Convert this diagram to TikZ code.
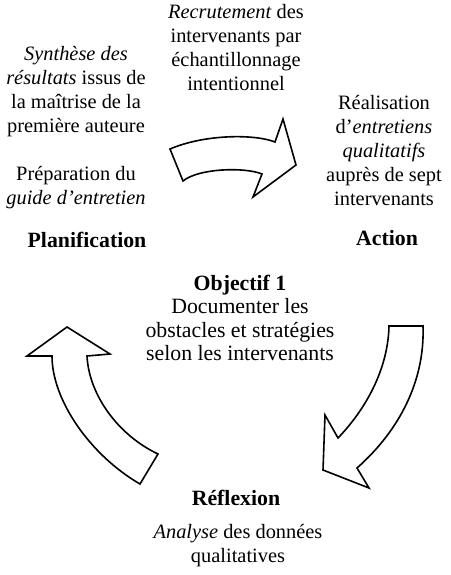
\documentclass[tikz,border=0pt]{standalone}
\usepackage{fontspec}
\setmainfont{Liberation Serif}
\tikzset{
  txt/.style    = {align=center, inner sep=0pt,
                   font=\fontsize{20.4}{24}\selectfont},
  objtxt/.style = {align=center, inner sep=0pt,
                   font=\fontsize{21.8}{23.3}\selectfont},
  titre/.style  = {align=center, inner sep=0pt,
                   font=\fontsize{21.8}{24}\selectfont\bfseries},
  fleche/.style = {draw=black, line width=1.6pt, fill=white,
                   line join=miter},
}

\begin{document}
\begin{tikzpicture}[x=1pt, y=-1pt]
  \useasboundingbox (0,0) rectangle (450,575);
  % textes
  \node[txt] (recrut) at (236,48)
    {\textit{Recrutement} des\\intervenants par\\échantillonnage\\intentionnel};
  \node[txt] (synth) at (76,92)
    {\textit{Synthèse des}\\\textit{résultats} issus de\\la maîtrise de la\\première auteure};
  \node[txt] (prep) at (76,188) {Préparation du\\\textit{guide d’entretien}};
  \node[titre] (planif) at (87,240) {Planification};
  \node[txt] (realis) at (384,151)
    {Réalisation\\d’\textit{entretiens}\\\textit{qualitatifs}\\auprès de sept\\intervenants};
  \node[titre] (action) at (387,238) {Action};
  \node[objtxt] (objectif) at (240,318)
    {\textbf{Objectif 1}\\Documenter les\\obstacles et stratégies\\selon les intervenants};
  \node[titre] (reflex) at (236,498) {Réflexion};
  \node[txt] (analyse) at (238,546) {\textit{Analyse} des données\\qualitatives};
  % fleches
  \draw[fleche] (170,149) .. controls (205,134) and (255,134) .. (275,142)
    -- (283,119) -- (296,165) -- (253,197) -- (262,174)
    .. controls (245,167) and (199,168) .. (183,181) -- cycle;
  \draw[fleche] (423,326) .. controls (425,380) and (400,430) .. (357,468)
    -- (369,488) -- (323,470) -- (325,415) -- (338,438)
    .. controls (365,410) and (388,370) .. (389,326) -- cycle;
  \draw[fleche] (67,327) -- (110,354) -- (87,356)
    .. controls (89,395) and (118,435) .. (158,454)
    -- (140,484) .. controls (90,455) and (52,400) .. (52,356)
    -- (27,356) -- cycle;
\end{tikzpicture}
\end{document}
